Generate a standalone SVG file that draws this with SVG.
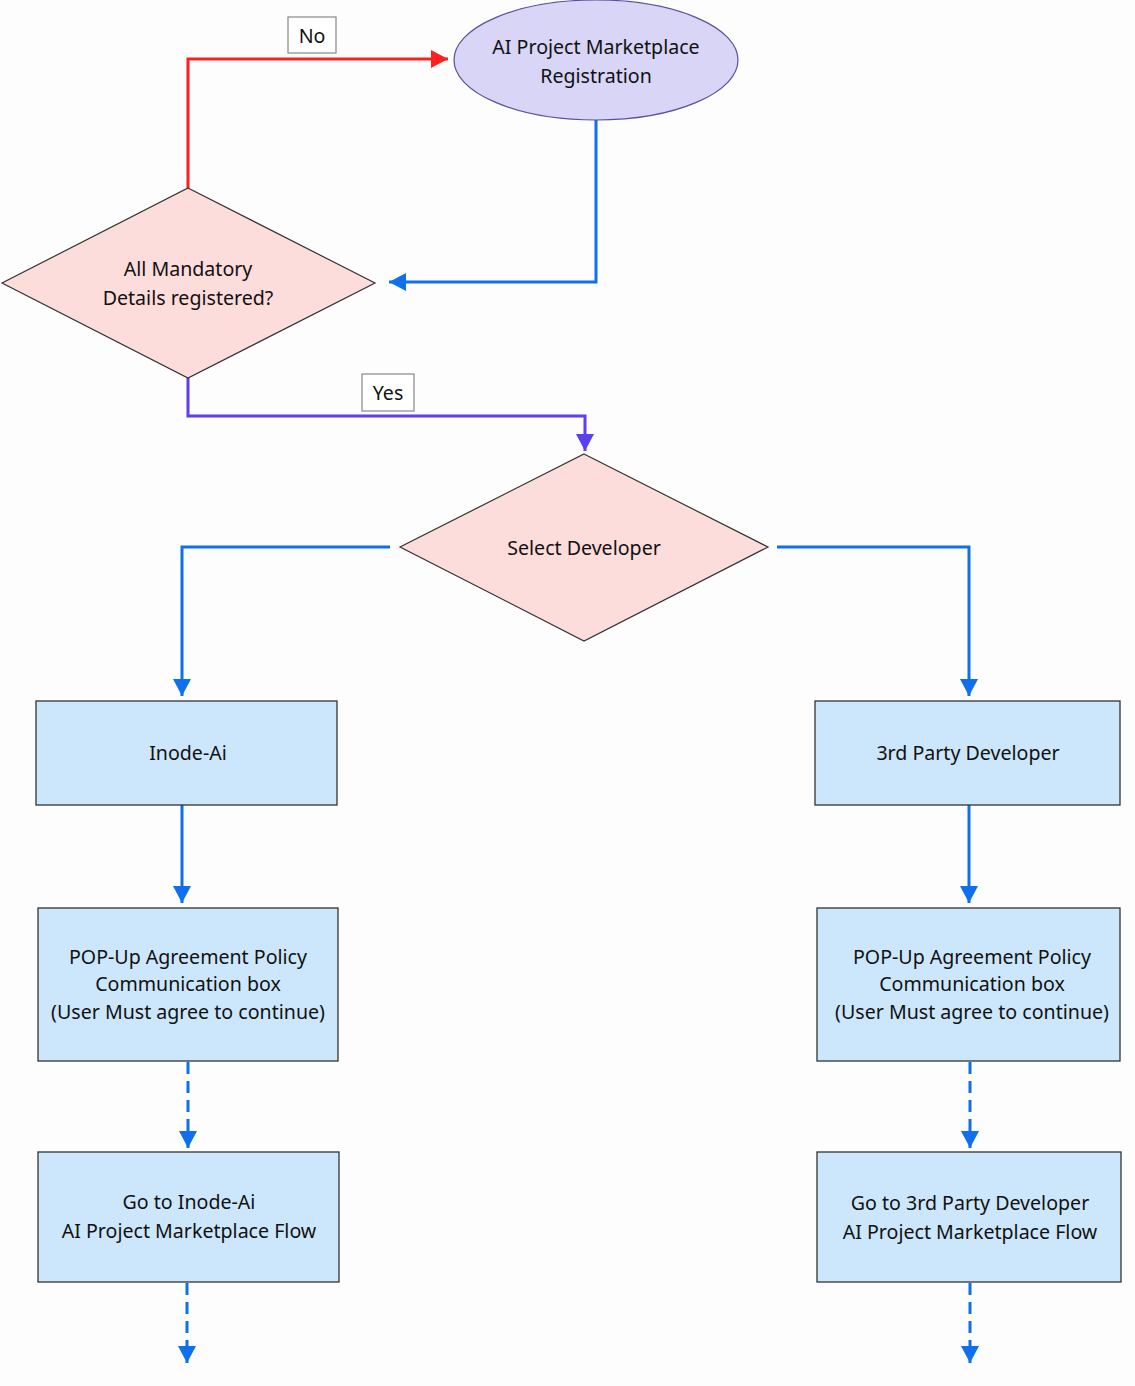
<svg xmlns="http://www.w3.org/2000/svg" width="1135" height="1386" viewBox="0 0 1135 1386">
<style>
.t{font-family:"Noto Sans","Open Sans","Liberation Sans",sans-serif;font-size:19.6px;fill:#111;text-anchor:middle;dominant-baseline:central}
.box{fill:#cce7fb;stroke:#333;stroke-width:1.3}
.dia{fill:#fddcdc;stroke:#333;stroke-width:1.2}
.lbl{fill:#fff;stroke:#888;stroke-width:1.2}
.c{fill:none;stroke-width:3}
.blue{stroke:#0f6fec}
.dash{stroke-dasharray:12 7}
</style>
<defs>
<marker id="ab" markerUnits="userSpaceOnUse" markerWidth="20" markerHeight="20" viewBox="0 0 20 20" refX="18" refY="10" orient="auto"><path d="M1,1 L18,10 L1,19 Z" fill="#0f6fec"/></marker>
<marker id="ar" markerUnits="userSpaceOnUse" markerWidth="20" markerHeight="20" viewBox="0 0 20 20" refX="18" refY="10" orient="auto"><path d="M1,1 L18,10 L1,19 Z" fill="#ff1f1f"/></marker>
<marker id="ap" markerUnits="userSpaceOnUse" markerWidth="20" markerHeight="20" viewBox="0 0 20 20" refX="18" refY="10" orient="auto"><path d="M1,1 L18,10 L1,19 Z" fill="#5b3ff0"/></marker>
</defs>
<rect width="1135" height="1386" fill="#fdfdfd"/>
<g id="connectors">
<path class="c" stroke="#ff1f1f" d="M188,188 V59 H448" marker-end="url(#ar)"/>
<path class="c blue" d="M596,120 V282 H389" marker-end="url(#ab)"/>
<path class="c" stroke="#5b3ff0" d="M188,378 V416 H585 V451" marker-end="url(#ap)"/>
<path class="c blue" d="M390,547 H182 V696" marker-end="url(#ab)"/>
<path class="c blue" d="M777,547 H969 V696" marker-end="url(#ab)"/>
<path class="c blue" d="M182,805 V903" marker-end="url(#ab)"/>
<path class="c blue" d="M969,805 V903" marker-end="url(#ab)"/>
<path class="c blue dash" d="M188,1062 V1148" marker-end="url(#ab)"/>
<path class="c blue dash" d="M970,1062 V1148" marker-end="url(#ab)"/>
<path class="c blue dash" d="M187,1283 V1363" marker-end="url(#ab)"/>
<path class="c blue dash" d="M970,1283 V1363" marker-end="url(#ab)"/>
<g id="label-no"><rect class="lbl" x="288" y="17" width="48" height="36"/><text class="t" x="312" y="35">No</text></g>
<g id="label-yes"><rect class="lbl" x="362" y="374" width="52" height="37"/><text class="t" x="388" y="392">Yes</text></g>
</g>
<g id="registration">
<ellipse cx="596" cy="60" rx="142" ry="60" fill="#d8d5f7" stroke="#5a4fa0" stroke-width="1.2"/>
<text class="t" x="596" y="46">AI Project Marketplace</text>
<text class="t" x="596" y="75">Registration</text>
</g>
<g id="mandatory">
<polygon class="dia" points="188,188 375,283 188,378 2,283"/>
<text class="t" x="188" y="268">All Mandatory</text>
<text class="t" x="188" y="297">Details registered?</text>
</g>
<g id="select-developer">
<polygon class="dia" points="584,454 768,547 584,641 400,547"/>
<text class="t" x="584" y="547">Select Developer</text>
</g>
<g id="inode-ai">
<rect class="box" x="36" y="701" width="301" height="104"/>
<text class="t" x="188" y="752">Inode-Ai</text>
</g>
<g id="third-party">
<rect class="box" x="815" y="701" width="305" height="104"/>
<text class="t" x="968" y="752">3rd Party Developer</text>
</g>
<g id="popup-left">
<rect class="box" x="38" y="908" width="300" height="153"/>
<text class="t" x="188" y="956">POP-Up Agreement Policy</text>
<text class="t" x="188" y="983">Communication box</text>
<text class="t" x="188" y="1011">(User Must agree to continue)</text>
</g>
<g id="popup-right">
<rect class="box" x="817" y="908" width="303" height="153"/>
<text class="t" x="972" y="956">POP-Up Agreement Policy</text>
<text class="t" x="972" y="983">Communication box</text>
<text class="t" x="972" y="1011">(User Must agree to continue)</text>
</g>
<g id="goto-left">
<rect class="box" x="38" y="1152" width="301" height="130"/>
<text class="t" x="189" y="1201">Go to Inode-Ai</text>
<text class="t" x="189" y="1230">AI Project Marketplace Flow</text>
</g>
<g id="goto-right">
<rect class="box" x="817" y="1152" width="304" height="130"/>
<text class="t" x="970" y="1202">Go to 3rd Party Developer</text>
<text class="t" x="970" y="1231">AI Project Marketplace Flow</text>
</g>
</svg>
